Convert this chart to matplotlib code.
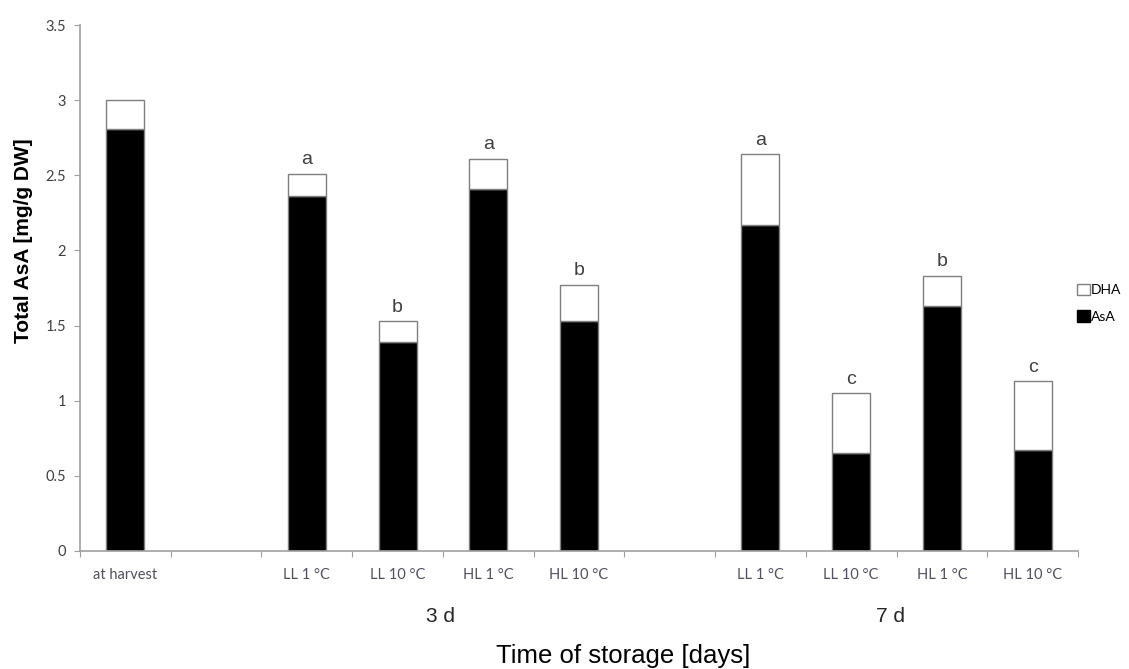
import numpy as np
import matplotlib.pyplot as plt
from matplotlib.patches import Patch

# categories (empty strings are the gaps between groups)
categories = ["at harvest", "", "LL 1 °C", "LL 10 °C", "HL 1 °C", "HL 10 °C",
              "", "LL 1 °C", "LL 10 °C", "HL 1 °C", "HL 10 °C"]
total = [3.00, None, 2.51, 1.53, 2.61, 1.77, None, 2.64, 1.05, 1.83, 1.13]
asa = [2.81, None, 2.36, 1.39, 2.41, 1.53, None, 2.17, 0.65, 1.63, 0.67]
letters = ["", "", "a", "b", "a", "b", "", "a", "c", "b", "c"]
groups = ["3 d", "7 d"]
group_pos = [3.97, 8.93]

tick_color = "#404040"
edge = "#7f7f7f"

fig = plt.figure(figsize=(11.29, 6.69), dpi=100)
ax = fig.add_axes([0.0709, 0.1764, 0.8839, 0.7862])

for i in range(len(categories)):
    if total[i] is None:
        continue
    x = i + 0.5
    dha = total[i] - asa[i]
    ax.bar(x, asa[i], width=0.42, color="black", edgecolor=edge, linewidth=1.0)
    ax.bar(x, dha, bottom=asa[i], width=0.42, color="white", edgecolor=edge, linewidth=1.0)
    if letters[i]:
        ax.annotate(letters[i], (x, total[i]), xytext=(0, 4), textcoords="offset points",
                    ha="center", va="bottom", fontsize=14, color="#404040",
                    family="Liberation Sans")

ax.set_xlim(0, 11)
ax.set_ylim(0, 3.5)
ax.set_yticks(np.arange(0, 3.51, 0.5))
ax.set_yticklabels(["0", "0.5", "1", "1.5", "2", "2.5", "3", "3.5"],
                   fontsize=10.5, color=tick_color, family="Lato")

ax.set_xticks(np.arange(0, 12))
ax.set_xticklabels([])
ax.set_xticks(np.arange(len(categories)) + 0.5, minor=True)
ax.set_xticklabels(categories, minor=True, fontsize=10.5, color="#505060", family="Lato")
ax.tick_params(axis="x", which="minor", length=0, pad=12)
ax.tick_params(axis="x", which="major", length=4, color="#a0a0a0", direction="out")
ax.tick_params(axis="y", length=4, color="#a0a0a0", direction="out", pad=6)

for s in ["top", "right"]:
    ax.spines[s].set_visible(False)
for s in ["left", "bottom"]:
    ax.spines[s].set_color("#a0a0a0")
    ax.spines[s].set_linewidth(1.2)

trans = ax.get_xaxis_transform()
for g, p in zip(groups, group_pos):
    ax.text(p, -0.125, g, transform=trans, ha="center", va="center",
            fontsize=15, color="#262626", family="Liberation Sans")

ax.text(5.99, -0.2, "Time of storage [days]", transform=trans, ha="center", va="center",
        fontsize=18.5, color="black", family="Liberation Sans")
ax.set_ylabel("Total AsA [mg/g DW]", fontsize=15, fontweight="bold",
              family="Liberation Sans")
ax.yaxis.set_label_coords(-0.047, 0.59)

handles = [Patch(facecolor="white", edgecolor=edge, label="DHA"),
           Patch(facecolor="black", edgecolor="black", label="AsA")]
leg = fig.legend(handles=handles, loc="center left", bbox_to_anchor=(0.954, 0.547),
                 frameon=False, handlelength=0.9, handleheight=0.9,
                 handletextpad=0.1, labelspacing=1.0, borderpad=0, borderaxespad=0,
                 prop={"family": "Lato", "size": 10})

fig.savefig("out.png", dpi=100)
